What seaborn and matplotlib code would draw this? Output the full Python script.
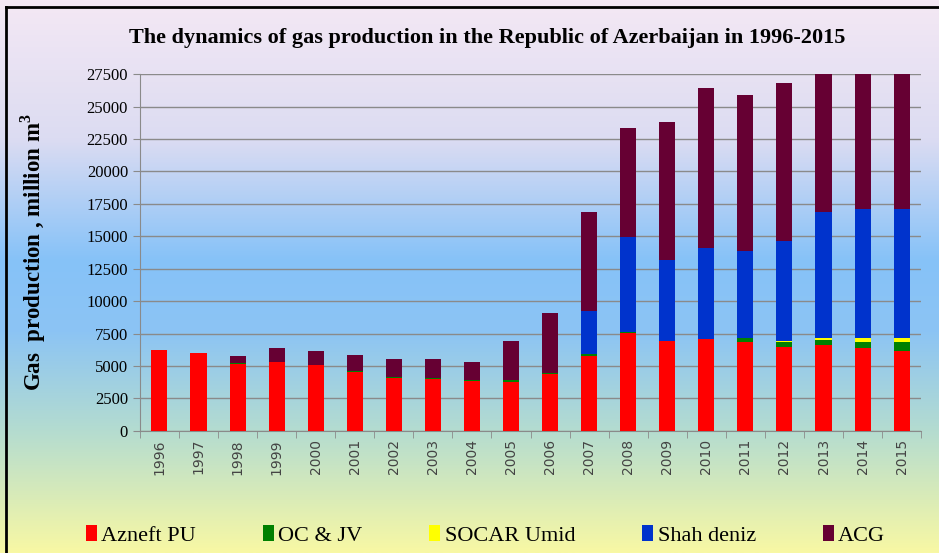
import numpy as np
import pandas as pd
import matplotlib
matplotlib.use('Agg')
import matplotlib.pyplot as plt
from matplotlib.patches import Patch
from matplotlib.colors import LinearSegmentedColormap
import seaborn as sns

# Данные (млн м3)
years = [str(y) for y in range(1996, 2016)]
azneft = [6250, 6000, 5150, 5300, 5050, 4550, 4100, 4000, 3850, 3750,
          4350, 5800, 7550, 6900, 7050, 6870, 6480, 6630, 6380, 6120]
oc_jv = [0, 0, 80, 0, 50, 70, 60, 60, 50, 170,
         100, 120, 60, 50, 40, 280, 335, 360, 440, 695]
socar_umid = [0, 0, 0, 0, 0, 0, 0, 0, 0, 0,
              0, 0, 0, 0, 0, 0, 100, 130, 360, 360]
shah_deniz = [0, 0, 0, 0, 0, 0, 0, 0, 0, 0,
              0, 3280, 7310, 6250, 6980, 6740, 7745, 9780, 9900, 9900]
acg = [0, 0, 520, 1120, 1090, 1210, 1340, 1440, 1370, 3015,
       4600, 7700, 8410, 10570, 12320, 12010, 12170, 12100, 12500, 11900]

series_names = ['Azneft PU', 'OC & JV', 'SOCAR Umid', 'Shah deniz', 'ACG']
series_values = [azneft, oc_jv, socar_umid, shah_deniz, acg]
colors = ['#ff0000', '#008000', '#ffff00', '#0033cc', '#660033']

df = pd.DataFrame({'year': years})
for name, vals in zip(series_names, series_values):
    df[name] = vals

fig = plt.figure(figsize=(9.39, 5.53), dpi=100)

# Фон-градиент
bg = fig.add_axes([0, 0, 1, 1], zorder=0)
grad_cmap = LinearSegmentedColormap.from_list('bg', [
    (0.00, '#f4e8f4'),
    (0.25, '#dcdcf2'),
    (0.47, '#86c2f8'),
    (0.60, '#8cc4f4'),
    (0.78, '#b4dcd0'),
    (1.00, '#f8f8a4'),
])
grad = np.linspace(0, 1, 256).reshape(-1, 1)
bg.imshow(grad, aspect='auto', cmap=grad_cmap, extent=[0, 1, 0, 1], origin='upper')
bg.set_xlim(0, 1)
bg.set_ylim(0, 1)
bg.axis('off')
bg.plot([0.006, 0.006], [0, 0.988], color='black', lw=2, transform=bg.transAxes)
bg.plot([0.006, 1.0], [0.988, 0.988], color='black', lw=2, transform=bg.transAxes)

ax = fig.add_axes([0.149, 0.221, 0.832, 0.645], zorder=1)
ax.set_facecolor('none')

bottom = np.zeros(len(years))
for name, color in zip(series_names, colors):
    sns.barplot(data=df, x='year', y=name, color=color, bottom=bottom,
                width=0.41, ax=ax, saturation=1, linewidth=0, zorder=3)
    bottom = bottom + df[name].values

ax.set_ylim(0, 27500)
ax.set_xlim(-0.5, len(years) - 0.5)
ax.set_yticks(np.arange(0, 27501, 2500))
ax.set_yticklabels([str(v) for v in range(0, 27501, 2500)],
                   fontfamily='Liberation Serif', fontsize=12)
ax.yaxis.grid(True, color='#8a8a8a', linewidth=1, zorder=1)
ax.set_axisbelow(True)

ax.set_xticks(range(len(years)))
ax.set_xticklabels(years, rotation=90, fontfamily='DejaVu Sans', fontsize=10, color='#444444')
ax.set_xticks(np.arange(-0.5, len(years)), minor=True)
ax.tick_params(axis='x', which='major', length=0, pad=6)
ax.tick_params(axis='x', which='minor', length=5, color='#8a8a8a')
ax.tick_params(axis='y', length=5, color='#8a8a8a')

for side in ['top', 'right']:
    ax.spines[side].set_visible(False)
ax.spines['left'].set_color('#8a8a8a')
ax.spines['bottom'].set_color('#8a8a8a')

ax.set_xlabel('')
ax.set_ylabel('Gas  production , million m$^\\mathregular{3}$', fontfamily='Liberation Serif',
              fontsize=16.5, fontweight='bold', labelpad=28)
fig.text(0.519, 0.932, 'The dynamics of gas production in the Republic of Azerbaijan in 1996-2015',
         ha='center', va='center', fontfamily='Liberation Serif', fontsize=16, fontweight='bold')

handles = [Patch(facecolor=c, label=n) for n, c in zip(series_names, colors)]
fig.legend(handles=handles, loc='center', bbox_to_anchor=(0.517, 0.032), ncol=5,
           frameon=False, prop={'family': 'Liberation Serif', 'size': 16},
           handlelength=0.5, handleheight=0.7, handletextpad=0.2, columnspacing=3.0)

plt.savefig('out.png', dpi=100)
plt.close()
